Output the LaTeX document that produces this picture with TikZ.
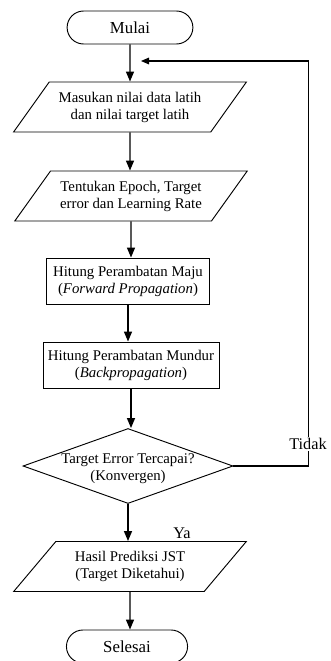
\documentclass[tikz,border=0pt]{standalone}
\usepackage{fontspec}
\setmainfont{Liberation Serif}
\usetikzlibrary{arrows.meta,shapes.geometric,shapes.misc}
\tikzset{
  teks/.style={font=\fontsize{11.1}{12.8}\selectfont, align=center},
  terminal/.style={rounded rectangle, draw, line width=0.7pt, minimum width=101pt, minimum height=24.75pt, font=\fontsize{12.6}{15}\selectfont},
  io/.style={teks, trapezium, trapezium left angle=46, trapezium right angle=134, trapezium stretches=true, draw, line width=0.7pt, minimum width=174.75pt, minimum height=37.5pt, inner sep=1pt},
  proses/.style={teks, rectangle, draw, line width=0.7pt, minimum height=34.5pt, inner xsep=2pt},
  keputusan/.style={teks, diamond, draw, line width=0.7pt, aspect=2.8, minimum width=157.5pt, minimum height=56.25pt, inner xsep=-12pt, inner ysep=-4pt},
  panah/.style={-{Triangle[width=6pt,length=7.5pt]}, line width=1.1pt},
  balikan/.style={-{Triangle[width=5pt,length=6pt]}, line width=0.8pt},
  ket/.style={font=\fontsize{12.2}{14}\selectfont}
}
\begin{document}
\begin{tikzpicture}[x=0.75pt,y=-0.75pt]
	%%%%% START %%%%%
	\useasboundingbox (0,0) rectangle (330,661);
	
	\node[terminal] (mulai) at (130,27.5) {Mulai};
	\node[io] (masukan) at (130,107) {Masukan nilai data latih\\dan nilai target latih};
	\node[io] (tentukan) at (131,196) {Tentukan Epoch, Target\\error dan Learning Rate};
	\node[proses, minimum width=122.25pt] (maju) at (128,281) {Hitung Perambatan Maju\\(\textit{Forward Propagation})};
	\node[proses, minimum width=132pt] (mundur) at (131,365) {Hitung Perambatan Mundur\\(\textit{Backpropagation})};
	\node[keputusan] (cek) at (128,466) {\rule{0pt}{12pt}Target Error Tercapai?\\(Konvergen)};
	\node[io] (hasil) at (130,566.5) {Hasil Prediksi JST\\(Target Diketahui)};
	\node[terminal, minimum width=97.5pt] (selesai) at (127,646.5) {Selesai};
	
	\draw[panah] (mulai) -- (mulai |- masukan.north);
	\draw[panah] (masukan) -- (masukan |- tentukan.north);
	\draw[panah] (tentukan) -- (tentukan |- maju.north);
	\draw[panah] (maju) -- (maju |- mundur.north);
	\draw[panah] (mundur) -- (mundur |- cek.north);
	\draw[panah] (cek) -- (cek |- hasil.north);
	\draw[panah] (hasil) -- (hasil |- selesai.north);
	
	\coordinate (balik) at (141,61);
	\draw[balikan] (cek.east) -- ++(75,0) |- (balik);
	\node[ket, fill=white, inner sep=1pt] (tidak) at (308,444) {Tidak};
	\node[ket] (ya) at (182,533) {Ya};
	
	%%%%% END %%%%%
\end{tikzpicture}
\end{document}
